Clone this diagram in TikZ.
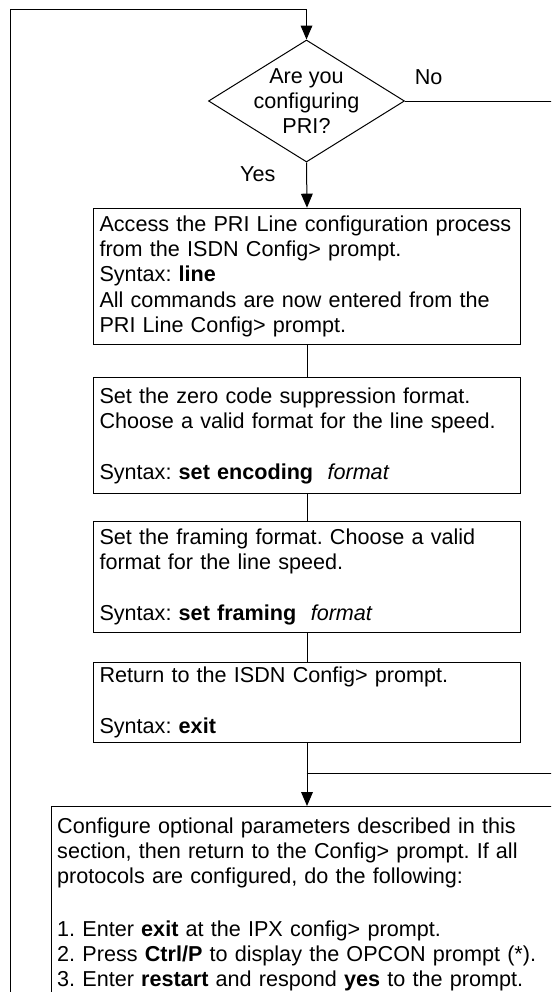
\documentclass[tikz,border=0pt]{standalone}
\usepackage{fontspec}
\setmainfont{Liberation Sans}
\usetikzlibrary{arrows.meta,shapes.geometric}
\frenchspacing
\begin{document}
\begin{tikzpicture}[x=0.75pt,y=-0.75pt,
  line width=0.75pt,
  txtfont/.style={font=\fontsize{16.2pt}{19pt}\selectfont\frenchspacing},
  procbox/.style={draw, txtfont, anchor=north west, text width=311.25pt,
    inner xsep=4.5pt, inner ysep=2pt, align=left},
  bigbox/.style={draw, font=\fontsize{16.2pt}{18.75pt}\selectfont\frenchspacing, anchor=north west,
    text width=600pt, inner xsep=4.5pt, inner ysep=2pt, align=left},
  decision/.style={draw, shape=diamond, inner sep=0pt, minimum width=147pt, minimum height=91.5pt},
  lbl/.style={txtfont, inner sep=0pt},
  arr/.style={-{Triangle[length=10.5pt,width=8.8pt]}}]
\useasboundingbox (0,0) rectangle (551,992);
\clip (0,0) rectangle (551,992);

% decision
\node[decision] (d) at (306.5,101) {};
\node[txtfont, align=center, inner sep=0pt] (dt) at (d.center) {Are you\\configuring\\PRI?};
\node[lbl] (no) at (428.7,77.3) {No};
\node[lbl] (yes) at (257.7,174) {Yes};

% process boxes
\node[procbox, minimum height=102.2pt] (b1) at (93,207.7)
  {Access the PRI Line configuration process\\
   from the ISDN Config> prompt.\\
   Syntax: \textbf{line}\\
   All commands are now entered from the\\
   PRI Line Config> prompt.};
\node[procbox, minimum height=87.5pt] (b2) at (93,376.7)
  {Set the zero code suppression format.\\
   Choose a valid format for the line speed.\\[19pt]
   Syntax: \textbf{set encoding}\ \ \textit{format}};
\node[procbox, minimum height=83.7pt] (b3) at (93,520.7)
  {Set the framing format. Choose a valid\\
   format for the line speed.\\[19pt]
   Syntax: \textbf{set framing}\ \ \textit{format}};
\node[procbox, minimum height=60pt] (b4) at (93,661.7)
  {Return to the ISDN Config> prompt.\\[19pt]
   Syntax: \textbf{exit}};

\node[bigbox] (bb) at (50.7,806)
  {\rule{0pt}{18.2pt}Configure optional parameters described in this\\
   section, then return to the Config> prompt. If all\\
   protocols are configured, do the following:\\[21pt]
   1. Enter \textbf{exit} at the IPX config> prompt.\\
   2. Press \textbf{Ctrl/P} to display the OPCON prompt (*).\\
   3. Enter \textbf{restart} and respond \textbf{yes} to the prompt.\rule[-20pt]{0pt}{0pt}};

% coordinates
\coordinate (loopin) at (10,1000);
\coordinate (tl) at (10,9);
\coordinate (rightedge) at (560,0);
\coordinate (j) at (306.5,773);

% connectors
\draw[arr] (loopin) -- (tl) -| (d.north);
\draw (d.east) -- (d.east -| rightedge);
\draw[arr] (d.south) -- (b1.north);
\draw (b1.south) -- (b2.north);
\draw (b2.south) -- (b3.north);
\draw (b3.south) -- (b4.north);
\draw[arr] (b4.south) -- (b4.south |- bb.north);
\draw (j) -- (j -| rightedge);
\end{tikzpicture}
\end{document}
